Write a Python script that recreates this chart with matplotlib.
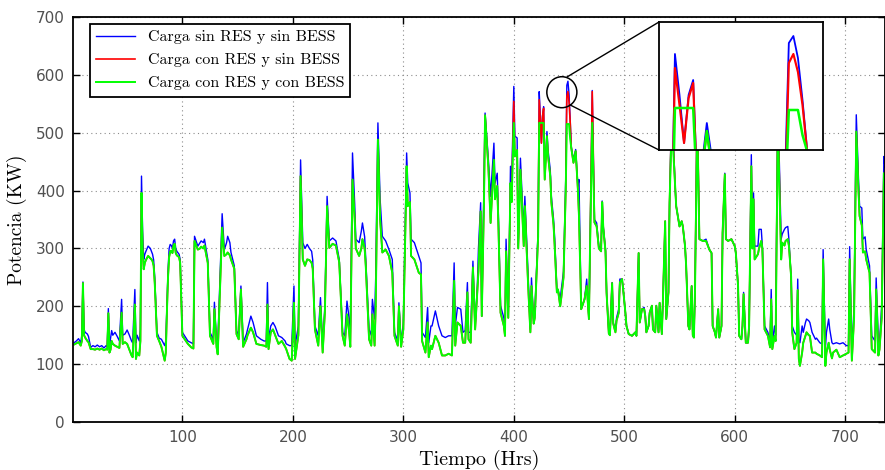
"""Perfil horario de carga: sin RES/BESS, con RES, y con RES + BESS (con zoom de picos)."""

import matplotlib

matplotlib.use("Agg")  # Sin display.
import matplotlib.pyplot as plt
from matplotlib.patches import ConnectionPatch, Ellipse

hours = [
    2, 4, 6, 8, 9, 10, 11, 12, 14, 15,
    17, 19, 21, 23, 25, 27, 29, 31, 32, 33,
    34, 35, 36, 37, 39, 41, 43, 45, 46, 48,
    50, 52, 54, 55, 57, 58, 59, 61, 62, 63,
    64, 65, 66, 67, 69, 71, 72, 73, 74, 75,
    77, 79, 81, 84, 85, 86, 87, 88, 89, 90,
    91, 92, 93, 94, 95, 97, 98, 100, 105, 108,
    110, 111, 114, 116, 117, 119, 120, 123, 125, 128,
    129, 131, 132, 136, 138, 140, 141, 143, 144, 147,
    149, 151, 153, 155, 158, 159, 162, 164, 167, 171,
    174, 176, 177, 178, 180, 182, 184, 187, 190, 193,
    194, 197, 199, 201, 202, 205, 207, 209, 211, 213,
    215, 217, 218, 220, 223, 225, 227, 229, 231, 233,
    236, 239, 242, 245, 247, 249, 251, 252, 254, 256,
    257, 260, 262, 263, 265, 266, 269, 271, 272, 274,
    275, 277, 279, 281, 284, 287, 290, 292, 295, 296,
    298, 300, 303, 304, 306, 307, 310, 314, 316, 317,
    320, 322, 323, 325, 326, 329, 332, 335, 338, 341,
    344, 346, 347, 349, 352, 354, 356, 358, 359, 361,
    363, 365, 367, 368, 370, 371, 373, 374, 376, 377,
    379, 382, 383, 385, 386, 388, 391, 392, 393, 395,
    397, 398, 400, 401, 403, 404, 406, 409, 410, 413,
    415, 416, 418, 419, 422, 423, 424, 425, 426, 427,
    428, 430, 431, 433, 434, 436, 437, 439, 440, 442,
    443, 445, 447, 448, 449, 450, 451, 452, 454, 456,
    458, 459, 461, 464, 466, 468, 469, 471, 473, 475,
    477, 479, 480, 481, 483, 484, 486, 487, 489, 490,
    492, 493, 495, 496, 498, 499, 501, 502, 504, 507,
    510, 511, 513, 514, 516, 518, 519, 520, 522, 523,
    525, 526, 528, 529, 531, 532, 534, 535, 537, 538,
    540, 541, 543, 546, 547, 549, 550, 552, 553, 555,
    556, 558, 559, 561, 562, 563, 564, 566, 568, 571,
    574, 577, 579, 580, 582, 583, 585, 586, 588, 589,
    591, 592, 594, 597, 600, 601, 603, 604, 606, 607,
    608, 610, 612, 613, 615, 616, 617, 618, 621, 622,
    624, 625, 627, 630, 632, 633, 634, 636, 637, 639,
    642, 643, 645, 646, 648, 649, 651, 652, 654, 656,
    657, 658, 659, 661, 662, 664, 665, 667, 668, 670,
    673, 674, 677, 679, 680, 682, 683, 685, 686, 688,
    689, 692, 695, 698, 701, 703, 704, 706, 708, 710,
    712, 713, 715, 716, 718, 719, 722, 724, 727, 728,
    730, 731, 733, 735, 736,
]

load_base = [
    137, 140, 144, 137, 150, 242, 160, 155, 152, 148,
    129, 132, 130, 133, 130, 132, 128, 132, 130, 196,
    130, 145, 158, 150, 155, 148, 140, 212, 150, 152,
    159, 150, 140, 137, 229, 137, 150, 140, 160, 425,
    330, 281, 290, 295, 304, 300, 295, 290, 280, 250,
    155, 145, 143, 132, 140, 200, 260, 300, 307, 305,
    300, 313, 316, 300, 295, 290, 281, 155, 140, 137,
    135, 321, 304, 310, 313, 310, 316, 281, 155, 143,
    207, 137, 132, 360, 298, 310, 321, 310, 293, 270,
    158, 150, 235, 137, 152, 160, 183, 172, 149, 143,
    140, 140, 241, 143, 166, 172, 165, 149, 146, 140,
    135, 132, 132, 235, 132, 166, 453, 310, 300, 307,
    300, 295, 280, 166, 149, 215, 132, 200, 390, 313,
    318, 313, 281, 155, 149, 209, 178, 150, 465, 376,
    316, 310, 330, 344, 320, 281, 160, 150, 212, 178,
    250, 517, 385, 321, 313, 298, 281, 155, 140, 206,
    137, 170, 465, 413, 396, 316, 310, 287, 275, 155,
    146, 198, 137, 166, 166, 192, 166, 149, 146, 149,
    149, 275, 166, 198, 195, 155, 158, 241, 155, 155,
    278, 166, 235, 300, 379, 183, 420, 534, 480, 453,
    390, 482, 413, 430, 362, 201, 180, 149, 316, 183,
    442, 408, 580, 494, 491, 304, 456, 327, 390, 252,
    160, 249, 172, 189, 330, 571, 530, 482, 530, 545,
    425, 502, 470, 436, 390, 350, 318, 229, 229, 212,
    229, 260, 420, 582, 589, 567, 525, 476, 453, 471,
    408, 419, 195, 212, 247, 178, 300, 573, 350, 344,
    304, 298, 382, 338, 298, 224, 155, 152, 241, 172,
    158, 180, 195, 247, 247, 229, 189, 166, 152, 149,
    155, 149, 292, 172, 195, 198, 183, 155, 166, 189,
    201, 160, 155, 201, 155, 206, 152, 212, 347, 178,
    224, 379, 560, 408, 373, 350, 338, 347, 338, 304,
    270, 166, 160, 235, 150, 146, 224, 560, 316, 313,
    316, 298, 292, 166, 155, 146, 195, 146, 166, 327,
    430, 316, 313, 316, 304, 292, 235, 149, 143, 166,
    224, 137, 137, 166, 462, 310, 396, 304, 304, 333,
    333, 304, 166, 155, 137, 229, 137, 166, 150, 560,
    316, 325, 333, 336, 338, 316, 252, 166, 155, 150,
    247, 140, 137, 166, 155, 172, 178, 175, 172, 155,
    143, 145, 137, 135, 298, 126, 155, 178, 160, 137,
    135, 137, 135, 137, 132, 132, 303, 120, 200, 531,
    420, 373, 370, 316, 320, 298, 270, 149, 140, 249,
    137, 137, 200, 459, 440,
]

load_bess = [
    134, 136, 138, 132, 140, 240, 150, 146, 140, 138,
    126, 126, 125, 127, 125, 127, 124, 126, 125, 188,
    120, 125, 140, 135, 132, 130, 128, 189, 135, 138,
    135, 125, 115, 112, 203, 109, 120, 115, 140, 396,
    300, 264, 275, 280, 287, 283, 281, 278, 270, 240,
    149, 140, 130, 106, 120, 190, 250, 285, 295, 296,
    292, 305, 308, 292, 288, 285, 275, 149, 135, 129,
    127, 313, 298, 300, 303, 300, 305, 275, 149, 135,
    195, 129, 117, 336, 287, 290, 293, 288, 281, 265,
    152, 143, 229, 130, 143, 150, 163, 155, 135, 133,
    132, 130, 203, 126, 155, 160, 150, 135, 140, 130,
    126, 109, 106, 206, 109, 150, 425, 281, 270, 281,
    280, 275, 265, 160, 132, 200, 120, 190, 373, 301,
    308, 305, 276, 149, 132, 186, 155, 130, 419, 350,
    300, 287, 300, 316, 300, 270, 143, 132, 186, 132,
    200, 488, 350, 293, 298, 287, 258, 149, 132, 200,
    130, 160, 442, 373, 380, 287, 281, 258, 255, 140,
    120, 172, 112, 132, 126, 149, 137, 115, 115, 118,
    115, 244, 132, 172, 166, 137, 137, 224, 143, 137,
    267, 160, 225, 260, 364, 183, 380, 530, 470, 440,
    344, 453, 385, 408, 344, 189, 166, 149, 295, 180,
    413, 380, 517, 459, 470, 300, 436, 304, 373, 235,
    155, 235, 170, 180, 320, 517, 517, 517, 517, 517,
    419, 494, 460, 425, 380, 340, 304, 224, 229, 200,
    215, 250, 400, 515, 515, 515, 490, 474, 448, 468,
    402, 356, 195, 212, 235, 178, 300, 517, 345, 338,
    300, 295, 380, 335, 295, 222, 153, 150, 240, 170,
    155, 175, 189, 241, 247, 229, 189, 166, 152, 149,
    155, 149, 292, 172, 195, 195, 183, 155, 166, 189,
    201, 160, 155, 201, 155, 206, 152, 212, 347, 178,
    224, 379, 517, 408, 373, 350, 338, 347, 338, 304,
    270, 166, 160, 235, 150, 146, 224, 517, 316, 313,
    313, 298, 292, 166, 155, 146, 195, 146, 166, 327,
    428, 316, 313, 316, 304, 292, 235, 149, 143, 166,
    221, 137, 137, 166, 442, 300, 385, 281, 290, 300,
    313, 300, 160, 149, 129, 212, 126, 149, 140, 517,
    281, 310, 305, 313, 316, 305, 252, 155, 126, 137,
    228, 109, 97, 120, 137, 149, 155, 150, 149, 120,
    120, 118, 115, 112, 281, 97, 120, 137, 125, 110,
    120, 125, 112, 115, 118, 120, 281, 106, 180, 502,
    400, 356, 340, 293, 295, 281, 258, 126, 120, 229,
    115, 125, 180, 430, 420,
]

# Con RES y sin BESS coincide con la curva con BESS salvo en los picos recortados.
res_peak_hours = [400, 423, 424, 425, 426, 427, 448, 449, 450, 451, 471, 543, 566, 639]
res_peak_values = [554, 557, 520, 482, 527, 542, 562, 571, 553, 520, 571, 540, 555, 540]

assert len(hours) == len(load_base) == len(load_bess)
res_lookup = dict(zip(hours, load_bess))
res_lookup.update(zip(res_peak_hours, res_peak_values))
load_res = [res_lookup[h] for h in hours]

SERIF = "cmr10"
W, H = 885, 470


def draw_series(ax, lw=1.0):
    """Draw the three load curves (blue under red under green)."""
    ax.plot(hours, load_base, color=(0, 0, 1), lw=lw, label="Carga sin RES y sin BESS")
    ax.plot(hours, load_res, color=(1, 0, 0), lw=lw * 1.2, label="Carga con RES y sin BESS")
    ax.plot(hours, load_bess, color=(0, 1, 0), lw=lw * 1.4, label="Carga con RES y con BESS")


fig = plt.figure(figsize=(W / 100, H / 100), dpi=100)
ax = fig.add_axes([73 / W, 1 - 422 / H, (W - 73) / W, (422 - 17) / H])
draw_series(ax, lw=1.0)

ax.set_xlim(1, 736)
ax.set_ylim(0, 700)
ax.set_xticks(range(100, 701, 100))
ax.set_yticks(range(0, 701, 100))
ax.grid(True, linestyle=(0, (1, 3)), color="#8c8c8c", linewidth=0.8)
ax.tick_params(direction="in", top=True, right=True, length=5, width=1,
               labelsize=11, labelcolor="#505050", pad=6)
for spine in ax.spines.values():
    spine.set_linewidth(1.3)

ax.set_xlabel("Tiempo (Hrs)", fontfamily=SERIF, fontsize=14.5, labelpad=3)
ax.set_ylabel("Potencia (KW)", fontfamily=SERIF, fontsize=14, labelpad=6)

leg = ax.legend(loc="upper left", bbox_to_anchor=(0.021, 0.983), borderaxespad=0,
                prop={"family": SERIF, "size": 11.5}, handlelength=2.4,
                labelspacing=0.55, fancybox=False, framealpha=1, edgecolor="black")
leg.get_frame().set_linewidth(1.3)

# Zoom de los picos recortados por el BESS.
axins = fig.add_axes([659 / W, 1 - 150 / H, 164 / W, 128 / H])
draw_series(axins, lw=1.3)
axins.set_xlim(419.5, 455.5)
axins.set_ylim(475, 603)
axins.set_xticks([])
axins.set_yticks([])
for spine in axins.spines.values():
    spine.set_linewidth(1.3)

ax.add_patch(Ellipse((443.5, 570), width=27.2, height=53.6, fill=False,
                     edgecolor="black", lw=1.1, zorder=5))
for xy_a, xy_b in [((448.3, 596.5), (0, 1)), ((451.0, 548.0), (0, 0))]:
    con = ConnectionPatch(xyA=xy_a, coordsA=ax.transData, xyB=xy_b,
                          coordsB=axins.transAxes, color="black", lw=1.0)
    fig.add_artist(con)

fig.savefig("out.png", dpi=100)
